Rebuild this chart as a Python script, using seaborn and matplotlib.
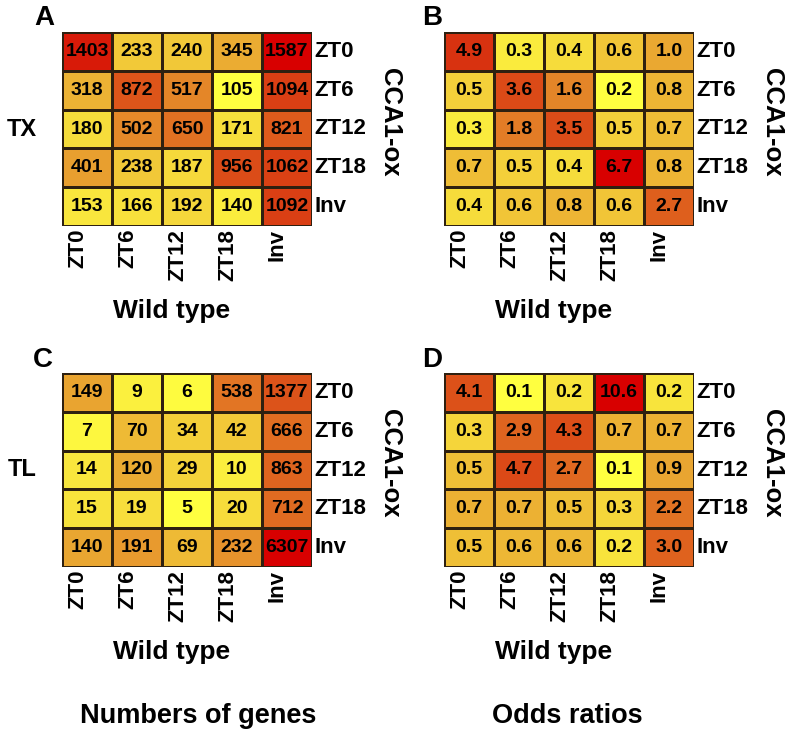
import matplotlib
matplotlib.use("Agg")
import matplotlib.pyplot as plt
import matplotlib.transforms as mtrans
from matplotlib.colors import LinearSegmentedColormap, LogNorm
import numpy as np
import pandas as pd
import seaborn as sns

# labels
wt_labels = ["ZT0", "ZT6", "ZT12", "ZT18", "Inv"]      # columns (wild type)
ox_labels = ["ZT0", "ZT6", "ZT12", "ZT18", "Inv"]      # rows (CCA1-ox)

# A: TX, numbers of genes
tx_counts = [
    [1403, 233, 240, 345, 1587],
    [318, 872, 517, 105, 1094],
    [180, 502, 650, 171, 821],
    [401, 238, 187, 956, 1062],
    [153, 166, 192, 140, 1092],
]
# B: TX, odds ratios
tx_odds = [
    [4.9, 0.3, 0.4, 0.6, 1.0],
    [0.5, 3.6, 1.6, 0.2, 0.8],
    [0.3, 1.8, 3.5, 0.5, 0.7],
    [0.7, 0.5, 0.4, 6.7, 0.8],
    [0.4, 0.6, 0.8, 0.6, 2.7],
]
# C: TL, numbers of genes
tl_counts = [
    [149, 9, 6, 538, 1377],
    [7, 70, 34, 42, 666],
    [14, 120, 29, 10, 863],
    [15, 19, 5, 20, 712],
    [140, 191, 69, 232, 6307],
]
# D: TL, odds ratios
tl_odds = [
    [4.1, 0.1, 0.2, 10.6, 0.2],
    [0.3, 2.9, 4.3, 0.7, 0.7],
    [0.5, 4.7, 2.7, 0.1, 0.9],
    [0.7, 0.7, 0.5, 0.3, 2.2],
    [0.5, 0.6, 0.6, 0.2, 3.0],
]

W, H = 794, 733
plt.rcParams["font.family"] = ["Liberation Sans", "DejaVu Sans"]
plt.rcParams["font.weight"] = "bold"

heat = LinearSegmentedColormap.from_list(
    "heat",
    [(0.0, "#FFFF40"), (0.25, "#F4D23A"), (0.45, "#EAAA32"),
     (0.65, "#E27624"), (0.8, "#DC5019"), (0.92, "#D8300F"),
     (1.0, "#D80000")],
)

fig = plt.figure(figsize=(W / 100, H / 100), dpi=100, facecolor="white")


def px(x, y):
    return x / W, 1 - y / H


def panel(data, fmt, left, top, letter, lx, ly):
    df = pd.DataFrame(data, index=ox_labels, columns=wt_labels)
    x0, y0 = px(left, top + 194)
    ax = fig.add_axes([x0, y0, 250 / W, 194 / H])
    vals = df.to_numpy(dtype=float)
    sns.heatmap(
        df, ax=ax, cmap=heat, norm=LogNorm(vals.min(), vals.max()),
        annot=True, fmt=fmt, cbar=False,
        linewidths=0.8, linecolor="#2e2010",
        annot_kws={"color": "black", "fontsize": 14, "fontweight": "bold"},
    )
    ax.yaxis.tick_right()
    ax.tick_params(length=0, pad=2)
    ax.set_yticklabels(ox_labels, rotation=0, fontsize=16, fontweight="bold",
                       va="center")
    ax.set_xticklabels(wt_labels, rotation=90, fontsize=16, fontweight="bold")
    shift = mtrans.ScaledTranslation(-9.5 / 100, 0, fig.dpi_scale_trans)
    for lab in ax.get_xticklabels():
        lab.set_transform(lab.get_transform() + shift)
    ax.set_xlabel("")
    ax.set_ylabel("")
    fig.text(*px(lx, ly), letter, fontsize=20, fontweight="bold",
             ha="center", va="baseline")
    fig.text(*px(left + 110, top + 286), "Wild type", fontsize=19,
             fontweight="bold", ha="center", va="baseline")
    fig.text(*px(left + 328, top + 90), "CCA1-ox", fontsize=18.5,
             fontweight="bold", rotation=-90, ha="center", va="center")
    return ax


panel(tx_counts, "d", 62, 32, "A", 44, 25)
panel(tx_odds, ".1f", 444, 32, "B", 432, 25)
panel(tl_counts, "d", 62, 373, "C", 43, 367)
panel(tl_odds, ".1f", 444, 373, "D", 432, 367)

fig.text(*px(22, 130), "TX", fontsize=17, fontweight="bold",
         ha="center", va="center")
fig.text(*px(22, 470), "TL", fontsize=17, fontweight="bold",
         ha="center", va="center")

fig.text(*px(198, 723), "Numbers of genes", fontsize=19.5, fontweight="bold",
         ha="center", va="baseline")
fig.text(*px(567, 723), "Odds ratios", fontsize=19.5, fontweight="bold",
         ha="center", va="baseline")

fig.savefig("out.png", dpi=100, facecolor="white")
